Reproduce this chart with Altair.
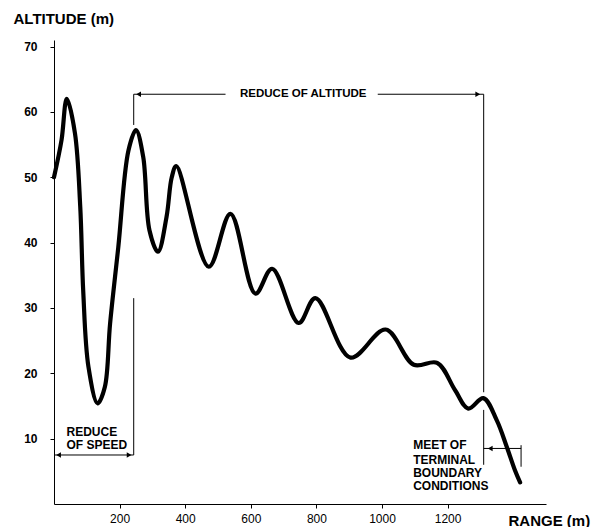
import altair as alt
import pandas as pd

FONT = "Liberation Sans"

# main trajectory (range in m, altitude in m)
range_m = [0, 23, 39, 64, 80, 89, 105, 133, 155, 171, 196, 227, 250,
           272, 291, 317, 343, 359, 373, 472, 538, 614, 665, 746, 797, 904, 1011, 1097, 1168,
           1223, 1263, 1309, 1350, 1380, 1405, 1421]
altitude_m = [50, 55.7, 62, 56.7, 45.5, 32.7, 21, 15.4, 17.9, 27.6, 39.3, 54.1, 57.2,
              53.1, 41.9, 38.6, 43.9, 50, 51.7, 36.3, 44.4, 32.2, 36, 27.7, 31.5, 22.4, 26.7, 21.3, 21.6,
              17.4, 14.6, 16.2, 12.8, 8.8, 5.2, 3.3]

# annotation segments (bracket lines)
seg_x1 = [243, 243, 1310, 1310, 1424, 243, 987, 0, 1310]
seg_x2 = [243, 243, 1310, 1310, 1424, 523, 1310, 243, 1424]
seg_y1 = [62.7, 31.5, 62.7, 14.4, 9.0, 62.7, 62.7, 7.5, 8.5]
seg_y2 = [58.0, 7.5, 17.1, 6.0, 5.7, 62.7, 62.7, 7.5, 8.5]

# arrowheads
arrow_x = [258, 1292, 14, 229, 1330]
arrow_y = [62.7, 62.7, 7.5, 7.5, 8.5]
arrow_shape = ["triangle-left", "triangle-right", "triangle-left", "triangle-right", "triangle-left"]

# annotation texts
lab_text = ["REDUCE OF ALTITUDE", "REDUCE", "OF SPEED", "MEET OF", "TERMINAL", "BOUNDARY", "CONDITIONS"]
lab_x = [760, 38, 38, 1095, 1095, 1095, 1095]
lab_y = [62.7, 11.05, 9.0, 9.0, 6.8, 4.7, 2.75]
lab_align = ["center", "left", "left", "left", "left", "left", "left"]

x_ticks = [200, 400, 600, 800, 1000, 1200]
y_ticks = [10, 20, 30, 40, 50, 60, 70]

xscale = alt.Scale(domain=[0, 1500], nice=False, zero=False)
yscale = alt.Scale(domain=[0, 71], nice=False, zero=False)

xax = alt.Axis(values=x_ticks, format="d", title="RANGE (m)", grid=False, tickSize=4, labelFontSize=12,
               labelPadding=5, labelFont=FONT, labelColor="black", titleFont=FONT,
               titleFontSize=15, titleFontWeight="bold", titleColor="black", titleX=454, titleY=16,
               titleAlign="left", titleBaseline="middle", domainColor="black", tickColor="black",
               labelFlush=False)
yax = alt.Axis(values=y_ticks, title="ALTITUDE (m)", grid=False, tickSize=4, labelFontSize=12,
               labelFontWeight="bold", labelPadding=13, labelFont=FONT, labelColor="black",
               titleFont=FONT, titleFontSize=15, titleFontWeight="bold", titleColor="black",
               titleAngle=0, titleX=-41, titleY=-22, titleAlign="left", titleBaseline="middle",
               domainColor="black", tickColor="black")

curve_df = pd.DataFrame({"x": range_m, "y": altitude_m})
seg_df = pd.DataFrame({"x": seg_x1, "x2": seg_x2, "y": seg_y1, "y2": seg_y2})
arr_df = pd.DataFrame({"x": arrow_x, "y": arrow_y, "shape": arrow_shape})
lab_df = pd.DataFrame({"x": lab_x, "y": lab_y, "text": lab_text, "align": lab_align})

curve = alt.Chart(curve_df).mark_line(
    interpolate="catmull-rom", color="black", strokeWidth=4.2, strokeCap="round", strokeJoin="round"
).encode(
    x=alt.X("x:Q", scale=xscale, axis=xax),
    y=alt.Y("y:Q", scale=yscale, axis=yax),
)

segs = alt.Chart(seg_df).mark_rule(color="black", strokeWidth=1).encode(
    x=alt.X("x:Q", scale=xscale, axis=xax), x2="x2:Q",
    y=alt.Y("y:Q", scale=yscale, axis=yax), y2="y2:Q",
)

arrows = alt.Chart(arr_df).mark_point(filled=True, color="black", size=30, opacity=1).encode(
    x=alt.X("x:Q", scale=xscale, axis=xax),
    y=alt.Y("y:Q", scale=yscale, axis=yax),
    shape=alt.Shape("shape:N", scale=None),
)

texts_c = alt.Chart(lab_df[lab_df["align"] == "center"]).mark_text(
    font=FONT, fontSize=11.5, fontWeight="bold", color="black", align="center", baseline="middle"
).encode(
    x=alt.X("x:Q", scale=xscale, axis=xax),
    y=alt.Y("y:Q", scale=yscale, axis=yax),
    text="text:N",
)
texts_l = alt.Chart(lab_df[lab_df["align"] == "left"]).mark_text(
    font=FONT, fontSize=12, fontWeight="bold", color="black", align="left", baseline="middle"
).encode(
    x=alt.X("x:Q", scale=xscale, axis=xax),
    y=alt.Y("y:Q", scale=yscale, axis=yax),
    text="text:N",
)

chart = alt.layer(segs, curve, arrows, texts_c, texts_l).properties(
    width=492, height=464,
    autosize=alt.AutoSizeParams(type="none"),
    padding={"left": 46, "top": 32, "right": 51, "bottom": 23},
    background="white",
).configure_view(stroke=None)

chart.save("out.html", embed_options={"renderer": "svg", "actions": False})
